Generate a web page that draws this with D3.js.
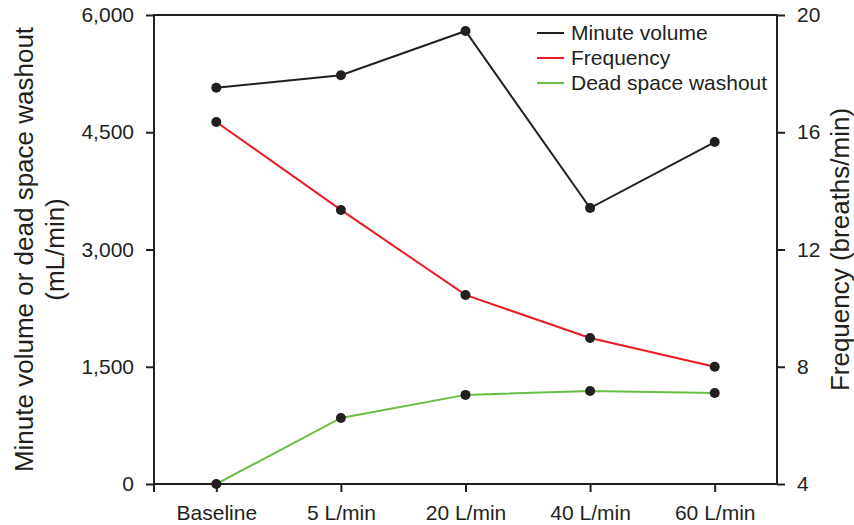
<!DOCTYPE html>
<html>
<head>
<meta charset="utf-8">
<script src="https://cdn.jsdelivr.net/npm/d3@7"></script>
<style>
  body { margin: 0; background: #fff; }
  text { font-family: "Liberation Sans", Arial, sans-serif; fill: #231f20; }
</style>
</head>
<body>
<div class="chart"></div>
<script>
var categories = ["Baseline", "5 L/min", "20 L/min", "40 L/min", "60 L/min"];
var minuteVolume = [5070, 5230, 5795, 3530, 4375];
var frequency = [16.35, 13.35, 10.45, 8.98, 8.0];
var deadSpace = [0, 845, 1140, 1190, 1165];
var leftTicks = [0, 1500, 3000, 4500, 6000];
var rightTicks = [4, 8, 12, 16, 20];

var svgWidth = 854;
var svgHeight = 525;
var margin = { top: 15, right: 77, bottom: 41, left: 154 };
var width = svgWidth - margin.left - margin.right;
var height = svgHeight - margin.top - margin.bottom;

var svg = d3.select(".chart")
  .append("svg")
  .attr("width", svgWidth)
  .attr("height", svgHeight);

var chartGroup = svg.append("g")
  .attr("transform", `translate(${margin.left}, ${margin.top})`);

var xScale = d3.scalePoint()
  .domain(categories)
  .range([0, width])
  .padding(0.5);

var yLeft = d3.scaleLinear().domain([0, 6000]).range([height, 0]);
var yRight = d3.scaleLinear().domain([4, 20]).range([height, 0]);

// axes
var leftAxis = d3.axisLeft(yLeft).tickValues(leftTicks).tickSize(8).tickPadding(12)
  .tickFormat(d3.format(","));
var rightAxis = d3.axisRight(yRight).tickValues(rightTicks).tickSize(8).tickPadding(12);
var bottomAxis = d3.axisBottom(xScale).tickSize(8).tickPadding(13);

function styleAxis(g) {
  g.select(".domain").remove();
  g.selectAll("line").attr("stroke", "#231f20").attr("stroke-width", 2);
  g.selectAll("text").style("font-size", "21px").attr("fill", "#231f20");
}

chartGroup.append("g").call(leftAxis).call(styleAxis);
chartGroup.append("g").attr("transform", `translate(${width},0)`).call(rightAxis).call(styleAxis);
chartGroup.append("g").attr("transform", `translate(0,${height})`).call(bottomAxis).call(styleAxis);

// frame
chartGroup.append("rect")
  .attr("width", width)
  .attr("height", height)
  .attr("fill", "none")
  .attr("stroke", "#231f20")
  .attr("stroke-width", 2);
// left axis bottom stub
chartGroup.append("line")
  .attr("x1", 0).attr("x2", 0).attr("y1", height).attr("y2", height + 8)
  .attr("stroke", "#231f20").attr("stroke-width", 2);

var series = [
  { name: "Minute volume", values: minuteVolume, scale: yLeft, color: "#231f20" },
  { name: "Frequency", values: frequency, scale: yRight, color: "#ed1c24" },
  { name: "Dead space washout", values: deadSpace, scale: yLeft, color: "#6abd45" }
];

series.forEach(function(s) {
  var pts = categories.map(function(c, i) { return [c, s.values[i]]; });
  var line = d3.line()
    .x(d => xScale(d[0]))
    .y(d => s.scale(d[1]));
  chartGroup.append("path")
    .datum(pts)
    .attr("d", line)
    .attr("fill", "none")
    .attr("stroke", s.color)
    .attr("stroke-width", 2);
});

series.forEach(function(s) {
  var pts = categories.map(function(c, i) { return [c, s.values[i]]; });
  chartGroup.selectAll(null)
    .data(pts)
    .enter()
    .append("circle")
    .attr("cx", d => xScale(d[0]))
    .attr("cy", d => s.scale(d[1]))
    .attr("r", 5)
    .attr("fill", "#231f20");
});

// legend
var legend = chartGroup.append("g").attr("transform", "translate(383, 18)");
series.forEach(function(s, i) {
  var row = legend.append("g").attr("transform", `translate(0, ${i * 25})`);
  row.append("line")
    .attr("x1", 0).attr("x2", 27)
    .attr("stroke", s.color).attr("stroke-width", 2);
  row.append("text")
    .attr("x", 34)
    .attr("dy", "0.35em")
    .style("font-size", "21px")
    .text(s.name);
});

// axis titles
var leftTitle = svg.append("text")
  .attr("transform", `translate(33, ${margin.top + height / 2}) rotate(-90)`)
  .attr("text-anchor", "middle")
  .style("font-size", "26px");
leftTitle.append("tspan").attr("x", 0).attr("y", 0).text("Minute volume or dead space washout");
leftTitle.append("tspan").attr("x", 0).attr("y", 31).text("(mL/min)");

svg.append("text")
  .attr("transform", `translate(849, ${margin.top + height / 2}) rotate(-90)`)
  .attr("text-anchor", "middle")
  .style("font-size", "26px")
  .text("Frequency (breaths/min)");
</script>
</body>
</html>
